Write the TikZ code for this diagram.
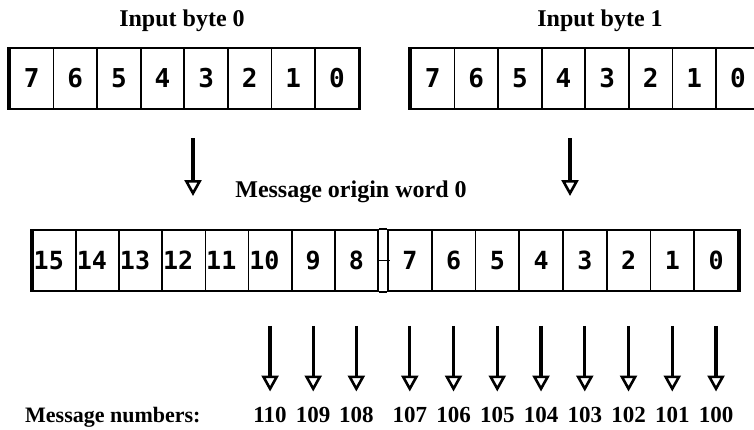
\documentclass[tikz,border=0pt]{standalone}
\usepackage{fontspec}
\setmainfont{Liberation Serif}
\newfontfamily\cellfont{DejaVu Sans Mono}
\usetikzlibrary{arrows.meta}
\tikzset{
  cellbase/.style={draw, line width=1.8pt, minimum height=61pt, inner sep=0pt, anchor=north west},
  bytecell/.style={cellbase, minimum width=43.6pt, text height=19pt, text depth=0pt, font=\cellfont\bfseries\fontsize{26}{26}\selectfont},
  wordcell/.style={cellbase, minimum width=#1, text height=18pt, text depth=0pt, font=\cellfont\bfseries\fontsize{25}{25}\selectfont},
  wlabel/.style={inner sep=0pt, anchor=west, text height=18pt, text depth=0pt, font=\cellfont\bfseries\fontsize{25}{25}\selectfont},
  cellline/.style={line width=1.8pt},
  edgeline/.style={line width=3.6pt},
  title/.style={inner sep=0pt, font=\bfseries\fontsize{24}{24}\selectfont},
  numlabel/.style={inner sep=0pt, anchor=base, font=\bfseries\fontsize{23}{23}\selectfont},
  arr/.style={line width=3.2pt, -{Triangle[open, length=16pt, width=17pt, line width=2.6pt]}}
}
\begin{document}
\begin{tikzpicture}[x=1pt,y=-1pt]
\useasboundingbox (0,0) rectangle (754,429);
% titles
\node[title, anchor=base] (t0) at (182,26) {Input byte 0};
\node[title, anchor=base] (t1) at (600,26) {Input byte 1};
% input byte 0
\foreach \d [count=\i from 0] in {7,6,5,4,3,2,1,0}
  \node[bytecell] (p\d) at ({9+\i*43.6},47) {\d};
% input byte 1
\foreach \d [count=\i from 0] in {7,6,5,4,3,2,1,0}
  \node[bytecell] (q\d) at ({410+\i*43.6},47) {\d};
\draw[edgeline] (p7.north west) -- (p7.south west);
\draw[edgeline] (p0.north east) -- (p0.south east);
\draw[edgeline] (q7.north west) -- (q7.south west);
% arrows to word
\coordinate (ua0) at (193,138);
\coordinate (ub0) at (193,196);
\coordinate (ua1) at (570,138);
\coordinate (ub1) at (570,196);
\draw[arr] (ua0) -- (ub0);
\draw[arr] (ua1) -- (ub1);
\node[title, anchor=base] (tw) at (351,197) {Message origin word 0};
% word, high byte
\foreach \d [count=\i from 0] in {15,14,13,12,11,10} {
  \node[wordcell=43.125pt] (w\d) at ({32+\i*43.125},229) {};
  \node[wlabel] (l\d) at ([xshift=1.5pt]w\d.west) {\d};
}
\node[wordcell=43.125pt] (w9) at ({32+6*43.125},229) {9};
\node[wordcell=43.125pt] (w8) at ({32+7*43.125},229) {8};
% word, low byte
\foreach \d [count=\i from 0] in {7,6,5,4,3,2,1,0}
  \node[wordcell=43.75pt] (w\d) at ({387+\i*43.75},229) {\d};
\draw[cellline] (w8.north east) -- (w7.north west) (w8.south east) -- (w7.south west);
\draw[cellline] (w8.east) -- ([xshift=3pt]w7.west);
\draw[edgeline] (w15.north west) -- (w15.south west);
\draw[edgeline] (w0.north east) -- (w0.south east);
% message numbers
\coordinate (nb) at (0,422);
\node[title, anchor=base west, font=\bfseries\fontsize{22}{22}\selectfont] (tm) at (25,422) {Message numbers:};
\foreach \d/\n in {10/110,9/109,8/108,7/107,6/106,5/105,4/104,3/103,2/102,1/101,0/100} {
  \node[numlabel] (n\n) at (w\d.south |- nb) {\n};
  \draw[arr] ([yshift=-34pt]w\d.south) -- ([yshift=15pt]n\n.north);
}
\end{tikzpicture}
\end{document}
